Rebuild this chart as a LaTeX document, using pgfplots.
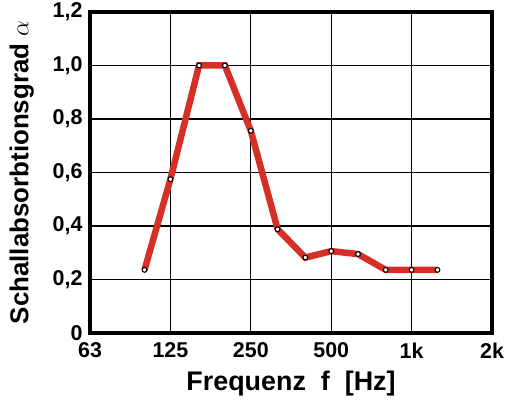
\documentclass[border=0pt]{standalone}
\usepackage{fontspec}
\setmainfont{Liberation Sans}
\usepackage{pgfplots}
\pgfplotsset{compat=1.18}
\definecolor{curvered}{RGB}{214,48,38}
\begin{document}
\begin{tikzpicture}
\useasboundingbox (-90bp,-67bp) rectangle (422bp,333bp);
\begin{axis}[
  scale only axis,
  width=402bp, height=321bp,
  xmode=log,
  xmin=62.5, xmax=2000,
  ymin=0, ymax=1.2,
  xtick={62.5,125,250,500,1000,2000},
  xticklabels={63,125,250,500,1k,2k},
  ytick={0,0.2,0.4,0.6,0.8,1.0,1.2},
  yticklabels={0,{0,2},{0,4},{0,6},{0,8},{1,0},{1,2}},
  minor xtick={},
  log ticks with fixed point,
  /pgf/number format/assume math mode=true,
  tick style={draw=none},
  grid=major,
  major grid style={black, line width=1.3bp},
  axis line style={black, line width=3.5bp},
  ticklabel style={font=\bfseries\fontsize{21.5}{21.5}\selectfont},
  xticklabel style={yshift=-6bp},
  yticklabel style={xshift=-4bp},
  xlabel={Frequenz\ \ f\ \ [Hz]},
  ylabel={Schallabsorbtionsgrad $\alpha$},
  xlabel style={font=\bfseries\fontsize{27}{27}\selectfont, at={(axis description cs:0.5,-0.156)}, anchor=center},
  ylabel style={font=\bfseries\fontsize{26}{26}\selectfont, at={(axis description cs:-0.17,0.5)}, anchor=center, rotate=0},
  clip=false,
]
\addplot[curvered, line width=6.5bp, line join=miter, mark=*, mark size=2.4bp,
  mark options={fill=white, draw=black, line width=1.1bp}]
  coordinates {
  (100,0.236) (125,0.575) (160,1.0) (200,1.0) (250,0.756) (315,0.388)
  (400,0.282) (500,0.306) (630,0.295) (800,0.236) (1000,0.236) (1250,0.236)
  };
\end{axis}
\end{tikzpicture}
\end{document}
